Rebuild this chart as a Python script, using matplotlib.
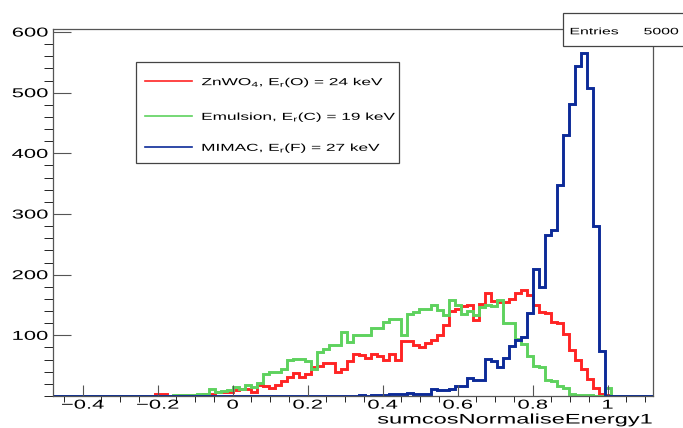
import numpy as np
import matplotlib
matplotlib.use("Agg")
import matplotlib.pyplot as plt
from matplotlib.patches import Rectangle
from matplotlib.lines import Line2D
from matplotlib.path import Path
from matplotlib.patheffects import AbstractPathEffect
from matplotlib.transforms import Affine2D

plt.rcParams['font.family'] = ['Liberation Sans', 'DejaVu Sans']
plt.rcParams['mathtext.default'] = 'regular'

# histogram binning (ROOT TH1: 100 bins)
nbins = 100
xlo, xhi = -0.48, 1.12

# bin contents, starting at bin index *_first
zn_first = 17
zn_counts = [3, 3, 0, 0, 1, 1, 1, 2, 3, 4, 7, 7, 7, 10, 12, 12, 6, 18, 16, 13,
             18, 24, 31, 38, 32, 37, 47, 49, 54, 54, 40, 44, 57, 69, 68, 62, 69, 66, 60, 70,
             60, 91, 91, 84, 81, 88, 92, 100, 117, 140, 143, 148, 150, 126, 151, 169, 156, 155, 155, 160,
             169, 175, 166, 150, 138, 137, 122, 121, 103, 76, 59, 44, 28, 13, 3, 2]

em_first = 20
em_counts = [1, 1, 2, 1, 3, 4, 11, 7, 9, 10, 15, 12, 18, 15, 21, 37, 40, 40, 44, 59,
             61, 61, 58, 44, 73, 78, 84, 84, 106, 89, 100, 100, 100, 112, 112, 122, 127, 127, 100, 136,
             139, 144, 144, 150, 142, 133, 159, 150, 136, 140, 133, 147, 150, 149, 158, 121, 120, 94, 85, 66,
             49, 47, 27, 24, 16, 13, 4, 2, 1, 1, 0, 0, 13]

mi_first = 51
mi_counts = [1, 0, 1, 2, 1, 3, 3, 4, 5, 4, 3, 4, 12, 10, 10, 11, 16, 17, 29, 26,
             26, 61, 58, 47, 62, 83, 93, 97, 137, 210, 180, 265, 274, 348, 430, 482, 544, 566, 507, 280,
             75]

labels = ["ZnWO$_4$, E$_r$(O) = 24 keV",
          "Emulsion, E$_r$(C) = 19 keV",
          "MIMAC, E$_r$(F) = 27 keV"]
colors = ["#ff2424", "#5ed25e", "#0c2a98"]

xticks = [-0.4, -0.2, 0, 0.2, 0.4, 0.6, 0.8, 1.0]
xticklabels = ["\u22120.4", "\u22120.2", "0", "0.2", "0.4", "0.6", "0.8", "1"]
yticks = [100, 200, 300, 400, 500, 600]
entries = 5000


class Widen(AbstractPathEffect):
    # the ROOT picture is squashed vertically, glyphs come out wide
    def __init__(self, sx=1.7, anchor=0.0):
        super().__init__()
        self.sx = sx
        self.anchor = anchor

    def draw_path(self, renderer, gc, tpath, affine, rgbFace=None):
        v = tpath.vertices
        if tpath.codes is not None:
            v = v[tpath.codes != Path.CLOSEPOLY]
        x0 = 0.0
        if len(v):
            x0 = v[:, 0].min() + self.anchor * (v[:, 0].max() - v[:, 0].min())
        st = Affine2D().translate(-x0, 0).scale(self.sx, 1).translate(x0, 0)
        renderer.draw_path(gc, tpath, st + affine, rgbFace)


def fill(first, counts):
    h = np.zeros(nbins)
    h[first:first + len(counts)] = counts
    return h


edges = np.linspace(xlo, xhi, nbins + 1)
hists = [fill(zn_first, zn_counts), fill(em_first, em_counts), fill(mi_first, mi_counts)]

W, H = 683, 428
fx = lambda px: px / W
fy = lambda py: 1 - py / H

fig = plt.figure(figsize=(W / 100, H / 100), dpi=100)
ax = fig.add_axes([fx(52.7), fy(396), 600 / W, 367 / H])

for h, c in zip(hists, colors):
    ax.stairs(h, edges, color=c, lw=2.1)

ax.set_xlim(xlo, xhi)
ax.set_ylim(0, 605)

ax.set_xticks(xticks, labels=xticklabels)
ax.set_xticks(np.arange(-0.45, 1.11, 0.05), minor=True)
ax.set_yticks(yticks, labels=[str(v) for v in yticks])
ax.set_yticks(np.arange(0, 605, 20), minor=True)

ax.tick_params(direction='in', color='#555555', width=0.8, labelsize=9.3)
ax.tick_params(axis='x', which='major', length=7.9, pad=2.6)
ax.tick_params(axis='x', which='minor', length=4.0)
ax.tick_params(axis='y', which='major', length=13, pad=3.3)
ax.tick_params(axis='y', which='minor', length=6.5)
for s in ax.spines.values():
    s.set_color('#555555')
    s.set_linewidth(0.9)

for t in ax.get_xticklabels():
    t.set_path_effects([Widen(1.7, 0.5)])
for t in ax.get_yticklabels():
    t.set_path_effects([Widen(1.7, 1.0)])

ax.set_xlabel("sumcosNormaliseEnergy1", loc='right', fontsize=10)
ax.xaxis.set_label_coords(1.0, -0.045)
ax.xaxis.label.set_path_effects([Widen(1.7, 1.0)])

# legend box
fig.add_artist(Rectangle((fx(136), fy(163.3)), 263.3 / W, 101.6 / H, transform=fig.transFigure,
                         facecolor='white', edgecolor='#444444', lw=0.9, zorder=5))
for i, (lab, c) in enumerate(zip(labels, colors)):
    yl = [81, 115.7, 146.7][i]
    fig.add_artist(Line2D([fx(145), fx(191.7)], [fy(yl), fy(yl)], color=c, lw=1.2,
                          transform=fig.transFigure, zorder=6))
    fig.text(fx(201.7), fy(yl + 4.2), lab, fontsize=7.3, va='baseline', ha='left', zorder=6,
             path_effects=[Widen(1.7, 0.0)])

# stats box
fig.add_artist(Rectangle((fx(563.3), fy(46)), 140 / W, 32.7 / H, transform=fig.transFigure,
                         facecolor='white', edgecolor='#444444', lw=0.9, zorder=5))
fig.text(fx(570), fy(34.3), "Entries", fontsize=6.7, va='baseline', ha='left', zorder=6,
         path_effects=[Widen(1.7, 0.0)])
fig.text(fx(678.7), fy(34.3), str(entries), fontsize=6.7, va='baseline', ha='right', zorder=6,
         path_effects=[Widen(1.7, 1.0)])

fig.savefig("out.png", dpi=100)
